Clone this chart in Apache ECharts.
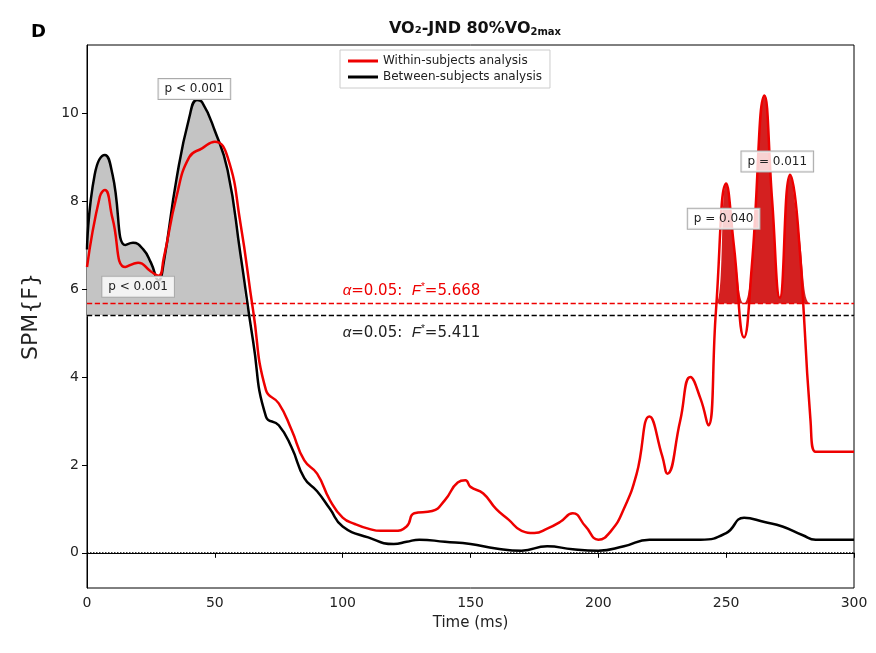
<!DOCTYPE html>
<html><head><meta charset="utf-8">
<script src="https://cdn.jsdelivr.net/npm/echarts@6/dist/echarts.min.js"></script>
<style>html,body{margin:0;background:#fff}#c{width:876px;height:653px}</style>
</head><body><div id="c"></div>
<script>
// 时间 (ms) 与 SPM{F} 数据
const redT = [0,5,7,10,15,20,25,28,30,35,40,45,50,55,60,65,70,75,80,85,90,95,100,105,110,115,120,125,128,135,140,145,148,150,155,160,165,170,175,180,185,190,195,200,205,210,215,220,225,227,232,236,240,243,246,250,253,257,260,265,268,271,275,278,283,285,300]
const redV = [6.5,8.1,8.25,7.6,6.5,6.6,6.4,6.3,6.7,8.1,9.0,9.2,9.35,9.0,7.5,5.5,3.7,3.4,2.8,2.1,1.8,1.2,0.8,0.65,0.55,0.5,0.5,0.6,0.9,0.95,1.2,1.6,1.65,1.5,1.35,1.0,0.75,0.5,0.45,0.55,0.7,0.9,0.6,0.3,0.5,1.0,1.8,3.1,2.2,1.8,3.0,4.0,3.5,2.9,5.5,8.4,7.0,4.9,6.5,10.4,8.0,5.8,8.6,7.5,3.0,2.3,2.3]
const blackT = [0,3,7,10,15,18,22,25,28,30,35,40,43,45,50,55,60,65,70,75,80,85,90,95,100,110,120,125,130,140,150,160,170,180,190,200,210,220,230,240,250,257,265,272,280,285,300]
const blackV = [6.9,8.6,9.05,8.6,7.0,7.05,6.9,6.6,6.2,6.6,8.5,9.9,10.3,10.25,9.6,8.7,6.8,4.8,3.1,2.9,2.4,1.7,1.4,1.0,0.6,0.35,0.2,0.25,0.3,0.25,0.2,0.1,0.05,0.15,0.08,0.05,0.15,0.3,0.3,0.3,0.45,0.8,0.7,0.6,0.4,0.3,0.3]
const redThr = 5.668
const blackThr = 5.411
// p 值标注: [文字, 时间, SPM]
const pNotes = [['p < 0.001', 42, 10.55], ['p < 0.001', 20, 6.05], ['p = 0.011', 270, 8.9], ['p = 0.040', 249, 7.6]]

let pairs = (t, v) => t.map((x, i) => [x, v[i]])
// 超阈值填充：曲线截到阈值，面积从阈值起
let over = (t, v, thr, lo, hi) => t.map((x, i) => [x, (x >= lo && x <= hi) ? Math.max(thr, v[i]) : thr])

let chart = echarts.init(document.getElementById('c'))
chart.setOption({
    animation: false,
    textStyle: { fontFamily: 'DejaVu Sans' },
    title: [{
        text: '{a|VO₂-JND 80%VO}{s|2max}', left: 470, top: 16, textAlign: 'center',
        textStyle: { rich: { a: { fontSize: 16, fontWeight: 'bold', color: '#111' }, s: { fontSize: 10, fontWeight: 'bold', color: '#111', padding: [6, 0, 0, 0] } } }
    }, {
        text: 'D', left: 26, top: 18, textStyle: { fontSize: 18, fontWeight: 'bold', color: '#000' }
    }],
    legend: {
        top: 50, left: 340, orient: 'vertical', itemGap: 4, itemWidth: 30, itemHeight: 3,
        borderColor: '#ccc', borderWidth: 1, padding: [5, 8], icon: 'rect', backgroundColor: '#fff',
        textStyle: { fontSize: 12, color: '#222' },
        data: ['Within-subjects analysis', 'Between-subjects analysis']
    },
    grid: { left: 87, right: 22, top: 45, bottom: 65, show: true, borderColor: '#000', borderWidth: 1 },
    xAxis: {
        type: 'value', min: 0, max: 300, interval: 50,
        name: 'Time (ms)', nameLocation: 'middle', nameGap: 28, nameTextStyle: { fontSize: 15, color: '#222' },
        axisLine: { lineStyle: { color: '#000' } }, axisTick: { lineStyle: { color: '#000' } },
        axisLabel: { fontSize: 14, color: '#222' }, splitLine: { show: false }
    },
    yAxis: {
        type: 'value', min: -0.8, max: 11.55,
        name: 'SPM{F}', nameLocation: 'middle', nameGap: 45, nameTextStyle: { fontSize: 22, color: '#222' },
        axisLine: { show: true, lineStyle: { color: '#000' } },
        axisLabel: { fontSize: 14, color: '#222', customValues: [0, 2, 4, 6, 8, 10] },
        axisTick: { show: true, customValues: [0, 2, 4, 6, 8, 10], lineStyle: { color: '#000' } },
        splitLine: { show: false }
    },
    series: [
        { type: 'line', data: over(blackT, blackV, blackThr, 0, 63), symbol: 'none', smooth: true, silent: true,
          lineStyle: { opacity: 0 }, areaStyle: { color: '#c4c4c4', opacity: 1, origin: blackThr }, z: 1 },
        { type: 'line', data: over(redT, redV, redThr, 244, 282), symbol: 'none', smooth: true, silent: true,
          lineStyle: { opacity: 0 }, areaStyle: { color: '#d42020', opacity: 1, origin: redThr }, z: 1 },
        {
            name: 'Between-subjects analysis', type: 'line', data: pairs(blackT, blackV), symbol: 'none', smooth: true,
            lineStyle: { color: '#000', width: 2.5 }, itemStyle: { color: '#000' }, z: 5,
            markLine: {
                symbol: 'none', silent: true, label: { show: false },
                lineStyle: { color: '#000', type: 'dashed', width: 1.3 },
                data: [
                    { yAxis: blackThr },
                    { yAxis: 0, lineStyle: { type: 'dotted', width: 1.5 } }
                ]
            }
        },
        {
            name: 'Within-subjects analysis', type: 'line', data: pairs(redT, redV), symbol: 'none', smooth: true,
            lineStyle: { color: '#ee0000', width: 2.5 }, itemStyle: { color: '#ee0000' }, z: 6,
            markLine: {
                symbol: 'none', silent: true, label: { show: false },
                lineStyle: { color: '#ee0000', type: 'dashed', width: 1.3 },
                data: [{ yAxis: redThr }]
            }
        }
    ]
})

// 标注文字用 graphic，位置由坐标轴换算
let px = (x, y) => chart.convertToPixel({ gridIndex: 0 }, [x, y])
let graphics = pNotes.map(n => {
    let p = px(n[1], n[2])
    return {
        type: 'text', x: p[0], y: p[1], z: 100,
        style: { text: n[0], fill: '#222', font: '12px DejaVu Sans', align: 'center', verticalAlign: 'middle',
            backgroundColor: 'rgba(255,255,255,0.8)', borderColor: '#aaa', borderWidth: 1, padding: [4, 6] }
    }
})
let thrText = (v, y, col) => {
    let p = px(100, y)
    return {
        type: 'text', x: p[0], y: p[1], z: 100,
        style: { text: '{i|α}=0.05:  {i|F}{s|*}=' + v, fill: col, font: '15px DejaVu Sans', verticalAlign: 'middle',
            rich: { i: { fontStyle: 'italic', fontSize: 15, fill: col }, s: { fontSize: 10, fill: col, padding: [0, 0, 8, 0] } } }
    }
}
graphics.push(thrText('5.668', 5.95, '#ee0000'), thrText('5.411', 5.0, '#222'))
chart.setOption({ graphic: graphics })
</script></body></html>
